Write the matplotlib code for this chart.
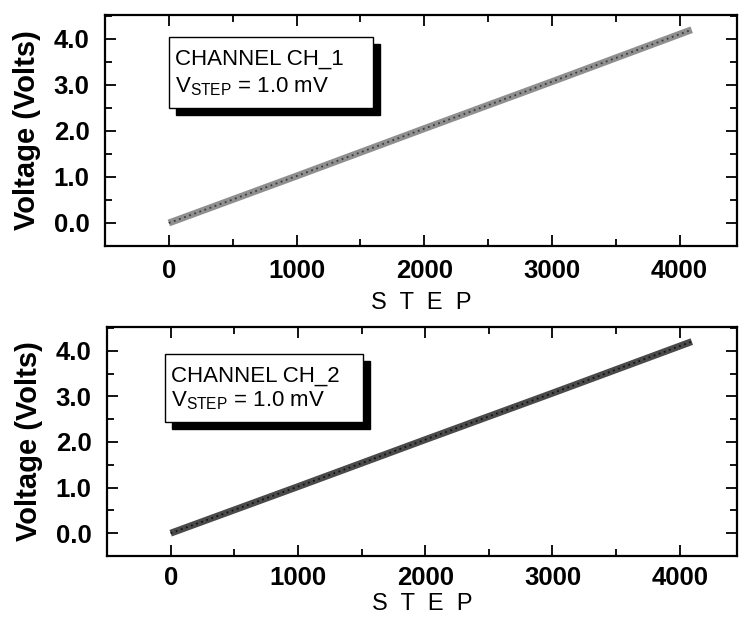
import matplotlib
matplotlib.use("Agg")
import matplotlib.pyplot as plt
from matplotlib.patches import Rectangle
from matplotlib.ticker import MultipleLocator

# values
step_ch1 = [0, 1000, 2000, 3000, 4095]
volt_ch1 = [0.0, 1.02, 2.05, 3.07, 4.20]
step_ch2 = [0, 1000, 2000, 3000, 4095]
volt_ch2 = [0.0, 1.02, 2.05, 3.07, 4.20]
x_ticks = [0, 1000, 2000, 3000, 4000]
y_ticks = [0.0, 1.0, 2.0, 3.0, 4.0]
y_tick_labels = ["0.0", "1.0", "2.0", "3.0", "4.0"]
channel_names = ["CHANNEL CH_1", "CHANNEL CH_2"]

plt.rcParams["font.family"] = ["Liberation Sans", "DejaVu Sans"]
plt.rcParams["mathtext.fontset"] = "custom"
plt.rcParams["mathtext.rm"] = "Liberation Sans"

W, H = 739, 622
fig = plt.figure(figsize=(W / 100, H / 100), dpi=100)

# axes boxes in pixels: left, top, right, bottom
boxes = [(105, 15, 737, 246), (107, 327, 737, 556)]
# legend boxes in pixels: left, top, right, bottom
legend_px = [(169, 37, 373, 108), (165, 354, 363, 422)]
line_styles = [("#8f8f8f", "#3a3a3a"), ("#4a4a4a", "#111111")]
series = [(step_ch1, volt_ch1), (step_ch2, volt_ch2)]
xtick_pads = [9, 7]
xlabel_pads = [7, 2]

for i, (l, t, r, b) in enumerate(boxes):
    ax = fig.add_axes([l / W, 1 - b / H, (r - l) / W, (b - t) / H])
    steps, volts = series[i]
    fill, edge = line_styles[i]
    ax.plot(steps, volts, color=fill, lw=5, solid_capstyle="butt")
    ax.plot(steps, volts, color=edge, lw=1.3, ls=(0, (1, 2)))

    ax.set_xlim(-500, 4450)
    ax.set_ylim(-0.5, 4.52)
    ax.set_xticks(x_ticks)
    ax.set_yticks(y_ticks)
    ax.set_yticklabels(y_tick_labels)
    ax.xaxis.set_minor_locator(MultipleLocator(500))
    ax.yaxis.set_minor_locator(MultipleLocator(0.5))
    ax.tick_params(which="both", direction="in", top=True, right=True, width=1.3)
    ax.tick_params(which="major", length=8)
    ax.tick_params(which="minor", length=5)
    ax.tick_params(axis="y", pad=11)
    ax.tick_params(axis="x", pad=xtick_pads[i])
    for lab in ax.get_xticklabels() + ax.get_yticklabels():
        lab.set_fontsize(18.5)
        lab.set_fontweight("bold")
    for sp in ax.spines.values():
        sp.set_linewidth(1.6)

    ax.set_ylabel("Voltage (Volts)", fontsize=21, fontweight="bold", labelpad=9)
    ax.set_xlabel("S  T  E  P", fontsize=17, labelpad=xlabel_pads[i])

    # legend box with black drop shadow
    bl, bt, br, bb = legend_px[i]
    x0 = (bl - l) / (r - l)
    x1 = (br - l) / (r - l)
    y0 = (b - bb) / (b - t)
    y1 = (b - bt) / (b - t)
    dx = 7 / (r - l)
    dy = 7 / (b - t)
    ax.add_patch(Rectangle((x0 + dx, y0 - dy), x1 - x0, y1 - y0, transform=ax.transAxes,
                           facecolor="black", edgecolor="black", zorder=4))
    ax.add_patch(Rectangle((x0, y0), x1 - x0, y1 - y0, transform=ax.transAxes,
                           facecolor="white", edgecolor="black", lw=1.0, zorder=5))
    ax.text(x0 + 6 / (r - l), y1 - 12 / (b - t), channel_names[i], transform=ax.transAxes,
            fontsize=16, va="top", ha="left", zorder=6)
    ax.text(x0 + 6 / (r - l), y0 + 10 / (b - t), r"V$_{\mathrm{STEP}}$ = 1.0 mV",
            transform=ax.transAxes, fontsize=16, va="bottom", ha="left", zorder=6)

fig.savefig("out.png", dpi=100)
